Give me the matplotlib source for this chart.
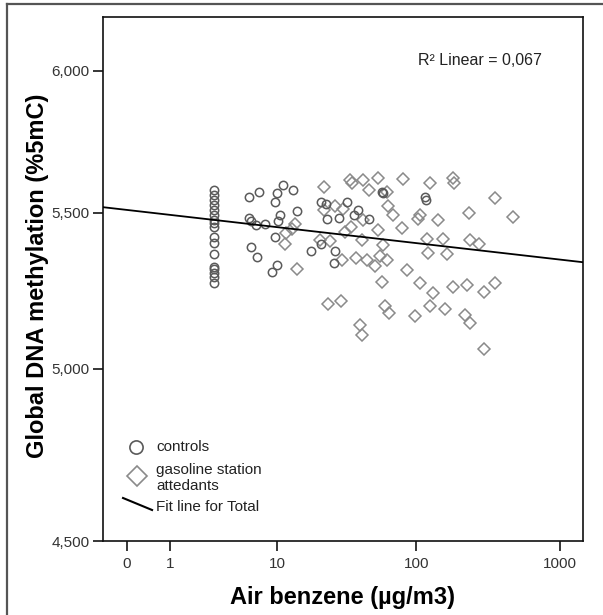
import numpy as np
import matplotlib
matplotlib.use("Agg")
import matplotlib.pyplot as plt
from matplotlib.lines import Line2D
from matplotlib.ticker import FixedLocator, NullLocator, FuncFormatter

plt.rcParams["font.family"] = ["Liberation Sans", "DejaVu Sans"]

# controls: air benzene (µg/m3) and global DNA methylation (%5mC)
CTRL_BENZ = [3.0] * 17 + [
    6.0, 7.2, 11.0, 9.9, 9.7, 13.2, 14.0, 10.5, 10.2, 6.0, 6.3, 6.9, 8.0,
    9.6, 6.3, 7.0, 9.9, 9.2, 17.8, 21.1, 26.8, 26.3, 21.0, 23.2, 28.3, 32.3,
    39.1, 36.4, 46.7, 57.2, 58.5, 114.9, 116.0, 23.0,
]
CTRL_METH = [
    5.578, 5.560, 5.543, 5.526, 5.509, 5.492, 5.476, 5.466, 5.453, 5.420,
    5.400, 5.363, 5.320, 5.314, 5.300, 5.290, 5.270,
    5.552, 5.572, 5.593, 5.567, 5.537, 5.578, 5.506, 5.492, 5.473, 5.483,
    5.473, 5.460, 5.462, 5.418, 5.388, 5.355, 5.327, 5.305, 5.374, 5.396,
    5.372, 5.333, 5.537, 5.480, 5.483, 5.537, 5.509, 5.492, 5.480, 5.572,
    5.568, 5.555, 5.545, 5.530,
]

# gasoline station attendants
GAS_BENZ = [
    22.3, 22.2, 26.6, 30.6, 13.5, 12.9, 11.7, 11.5, 14.2, 20.8, 24.5, 29.8,
    31.4, 23.9, 29.3, 34.1, 35.1, 42.4, 46.7, 54.1, 80.3, 124.6, 179, 183,
    353, 473, 234, 142.5, 106, 103, 68.3, 63.6, 62, 42.4, 34.5, 41.3, 54.1,
    58.7, 79, 118, 121, 153, 163, 236.6, 274.6, 37.6, 44.8, 51.3, 55.6, 62,
    85.6, 57.2, 106, 131, 179, 226.6, 296, 353, 60.3, 64.7, 97.9, 124.6,
    158.5, 218, 236.6, 40.2, 41.3, 296,
]
GAS_METH = [
    5.589, 5.509, 5.522, 5.514, 5.462, 5.446, 5.432, 5.396, 5.316, 5.409,
    5.406, 5.343, 5.437, 5.203, 5.211, 5.612, 5.600, 5.612, 5.578, 5.618,
    5.615, 5.603, 5.620, 5.600, 5.550, 5.485, 5.498, 5.476, 5.492, 5.480,
    5.492, 5.522, 5.572, 5.476, 5.453, 5.410, 5.443, 5.392, 5.450, 5.413,
    5.368, 5.413, 5.363, 5.410, 5.397, 5.349, 5.343, 5.323, 5.356, 5.345,
    5.311, 5.272, 5.268, 5.237, 5.257, 5.262, 5.240, 5.268, 5.197, 5.172,
    5.165, 5.197, 5.185, 5.167, 5.142, 5.135, 5.105, 5.062,
]

# fit line for total (two points on the line)
FIT_BENZ = [0, 1000]
FIT_METH = [5.51, 5.345]
R2_TEXT = "R² Linear = 0,067"

X_TICKS = [0, 1, 10, 100, 1000]
Y_TICKS = [4.5, 5.0, 5.5, 6.0]

fig = plt.figure(figsize=(6.03, 6.15), dpi=100)
ax = fig.add_axes([0.1703, 0.1203, 0.797, 0.8521])

ax.set_xscale("function", functions=(lambda x: np.log10(np.asarray(x) + 1),
                                     lambda u: 10 ** np.asarray(u) - 1))
ax.set_yscale("log")
ax.set_xlim(-0.318, 1444)
ax.set_ylim(4.5, 6.2)

ax.plot(GAS_BENZ, GAS_METH, ls="none", marker="D", ms=6.3, mfc="none",
        mec="#8a8a8a", mew=1.1, zorder=2)
ax.plot(CTRL_BENZ, CTRL_METH, ls="none", marker="o", ms=6, mfc="none",
        mec="#5a5a5a", mew=1.1, zorder=3)
ax.axline((FIT_BENZ[0], FIT_METH[0]), (FIT_BENZ[1], FIT_METH[1]),
          color="black", lw=1.3, zorder=4)

ax.xaxis.set_major_locator(FixedLocator(X_TICKS))
ax.xaxis.set_minor_locator(NullLocator())
ax.xaxis.set_major_formatter(FuncFormatter(lambda v, p: f"{v:g}"))
ax.yaxis.set_major_locator(FixedLocator(Y_TICKS))
ax.yaxis.set_minor_locator(NullLocator())
ax.yaxis.set_major_formatter(FuncFormatter(lambda v, p: f"{v:.3f}".replace(".", ",")))

ax.tick_params(axis="both", direction="out", length=7.5, width=1.1,
               labelsize=11, labelcolor="#333333", pad=2)
ax.tick_params(axis="x", pad=4)
for sp in ax.spines.values():
    sp.set_linewidth(1.2)
    sp.set_color("#111111")

ax.set_xlabel("Air benzene (µg/m3)", fontsize=17, fontweight="bold")
ax.set_ylabel("Global DNA methylation (%5mC)", fontsize=17, fontweight="bold")
ax.xaxis.set_label_coords(0.499, -0.085)
ax.yaxis.set_label_coords(-0.112, 0.506)

ax.text(0.656, 0.916, R2_TEXT, transform=ax.transAxes, fontsize=11.5,
        ha="left", va="center", color="#222222")

# legend drawn by hand (diagonal fit-line key)
t = ax.transAxes
ax.plot([0.0693], [0.1794], transform=t, marker="o", ms=9.5, mfc="none",
        mec="#5a5a5a", mew=1.2, clip_on=False)
ax.plot([0.0714], [0.1240], transform=t, marker="D", ms=10.5, mfc="none",
        mec="#8a8a8a", mew=1.2, clip_on=False)
ax.plot([0.0423, 0.1027], [0.0821, 0.0592], transform=t, color="black", lw=1.5)
ax.text(0.1115, 0.1794, "controls", transform=t, fontsize=11, va="center",
        color="#222222")
ax.text(0.1115, 0.1202, "gasoline station\nattedants", transform=t,
        fontsize=11, va="center", linespacing=1.15, color="#222222")
ax.text(0.1115, 0.0649, "Fit line for Total", transform=t, fontsize=11,
        va="center", color="#222222")

# outer frame of the original figure (cut at right and bottom)
fig.add_artist(Line2D([7 / 603, 7 / 603], [0, 1 - 4 / 615], color="#555555", lw=1.6))
fig.add_artist(Line2D([7 / 603, 1], [1 - 4 / 615, 1 - 4 / 615], color="#555555", lw=1.6))

fig.savefig("out.png", dpi=100)
